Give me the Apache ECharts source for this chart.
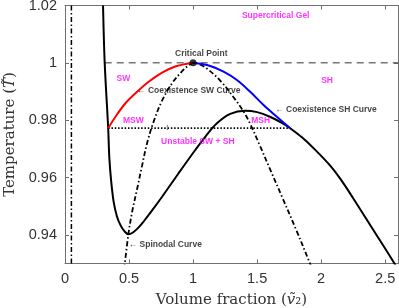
<!DOCTYPE html>
<html>
<head>
<meta charset="utf-8">
<script src="https://cdn.jsdelivr.net/npm/echarts@6/dist/echarts.min.js"></script>
<style>html,body{margin:0;padding:0;background:#fff}#c{width:399px;height:308px}</style>
</head>
<body>
<div id="c"></div>
<script>
// ---- data ----
const xTicks = [0, 0.5, 1, 1.5, 2, 2.5];
const yTicks = [0.94, 0.96, 0.98, 1, 1.02];

// solid black curve
const solidCurve = [
  [0.297, 1.02], [0.310, 1.0], [0.337, 0.9773], [0.346, 0.967], [0.360, 0.9590],
  [0.380, 0.9515], [0.405, 0.9465], [0.435, 0.9432], [0.465, 0.9412], [0.495, 0.9402],
  [0.530, 0.9408], [0.575, 0.9426], [0.620, 0.9450], [0.680, 0.9485], [0.758, 0.9533],
  [0.887, 0.9615], [1.017, 0.9696], [1.095, 0.9742], [1.186, 0.9789], [1.290, 0.9822],
  [1.407, 0.9833], [1.500, 0.9828], [1.600, 0.9812], [1.700, 0.9789], [1.758, 0.9772],
  [1.850, 0.9740], [1.950, 0.9698], [2.069, 0.9642], [2.150, 0.9595], [2.251, 0.9527],
  [2.400, 0.9422], [2.571, 0.9301], [2.62, 0.9262]
];
// red coexistence SW curve
const swCurve = [
  [0.337, 0.9772], [0.394, 0.9812], [0.472, 0.9859], [0.563, 0.9899],
  [0.653, 0.9934], [0.758, 0.9966], [0.861, 0.9987], [0.952, 0.9997], [1.0, 1.0]
];
// blue coexistence SH curve
const shCurve = [
  [1.0, 1.0], [1.134, 0.9989], [1.238, 0.9969], [1.342, 0.9940],
  [1.446, 0.9899], [1.550, 0.9853], [1.654, 0.9812], [1.758, 0.9772]
];
// spinodal (dash-dot)
const spinodal = [
  [0.462, 0.928], [0.495, 0.9402], [0.524, 0.9480], [0.563, 0.9560], [0.602, 0.9642],
  [0.641, 0.9720], [0.692, 0.9795], [0.758, 0.9868], [0.836, 0.9929],
  [0.913, 0.9970], [0.970, 0.9993], [1.0, 1.0], [1.050, 0.9995], [1.108, 0.9980], [1.212, 0.9938],
  [1.316, 0.9880], [1.394, 0.9830], [1.446, 0.9787], [1.520, 0.9713],
  [1.600, 0.9630], [1.700, 0.9527], [1.800, 0.9423], [1.913, 0.9300], [1.93, 0.928]
];
const verticalLineX = 0.05;
const criticalPoint = [1.0, 1.0];
const criticalLineY = 1.0;
const criticalLineStartX = 0.31;
const tieLine = [[0.337, 0.9772], [1.758, 0.9772]];

// annotations [x, y, text]
const regionLabels = [
  [0.456, 0.9944, 'SW'],
  [0.534, 0.9797, 'MSW'],
  [1.037, 0.9724, 'Unstable SW + SH'],
  [1.645, 1.0163, 'Supercritical Gel'],
  [2.046, 0.9937, 'SH'],
  [1.528, 0.9798, 'MSH']
];
const arrowLabels = [
  [0.563, 0.9902, '\u2190 Coexistence SW Curve'],
  [1.641, 0.9836, '\u2190 Coexistence SH Curve'],
  [0.497, 0.9365, '\u2190 Spinodal Curve']
];
const centerLabels = [
  [1.064, 1.0031, 'Critical Point'],
  [0.799, 0.9774, '\u2195']
];

const xMin = 0, xMax = 2.6, yMin = 0.93, yMax = 1.02;

const chart = echarts.init(document.getElementById('c'), null, {renderer: 'canvas'});
const axisCol = '#707070';
const lab = {fontFamily: 'Liberation Sans', fontSize: 14.5, color: '#333'};
const serif = 'DejaVu Serif';

function annot(list, color, align, size, weight) {
  return {
    type: 'scatter', symbolSize: 0, silent: true, z: 10,
    data: list.map(d => ({value: [d[0], d[1]], name: d[2]})),
    label: {
      show: true, position: 'inside', formatter: p => p.name,
      color: color, fontSize: size, fontWeight: weight, fontFamily: 'Liberation Sans',
      align: align, verticalAlign: 'middle'
    }
  };
}

chart.setOption({
  animation: false,
  grid: {left: 65, right: 1, top: 5.5, bottom: 44.5, containLabel: false, outerBoundsMode: 'none'},
  xAxis: [{
    type: 'value', min: xMin, max: xMax, position: 'bottom',
    axisLine: {show: true, onZero: false, lineStyle: {color: axisCol, width: 1}},
    axisTick: {show: true, inside: true, length: 4, customValues: xTicks, lineStyle: {color: axisCol}},
    axisLabel: {customValues: xTicks, margin: 8, ...lab},
    splitLine: {show: false},
    name: 'Volume fraction ({i|\u1E7D}\u2082)', nameLocation: 'middle', nameGap: 29,
    nameTextStyle: {fontFamily: serif, fontSize: 15, color: '#333', rich: {i: {fontFamily: serif, fontStyle: 'italic', fontSize: 15, color: '#333'}}}
  }, {
    type: 'value', min: xMin, max: xMax, position: 'top',
    axisLine: {show: true, onZero: false, lineStyle: {color: axisCol, width: 1}},
    axisTick: {show: true, inside: true, length: 4, customValues: xTicks, lineStyle: {color: axisCol}},
    axisLabel: {show: false}, splitLine: {show: false}
  }],
  yAxis: [{
    type: 'value', min: yMin, max: yMax, position: 'left',
    axisLine: {show: true, onZero: false, lineStyle: {color: axisCol, width: 1}},
    axisTick: {show: true, inside: true, length: 4, customValues: yTicks, lineStyle: {color: axisCol}},
    axisLabel: {customValues: yTicks, margin: 8, ...lab},
    splitLine: {show: false},
    name: 'Temperature ({i|T\u0303})', nameLocation: 'middle', nameGap: 44,
    nameTextStyle: {fontFamily: serif, fontSize: 15, color: '#333', rich: {i: {fontFamily: serif, fontStyle: 'italic', fontSize: 15, color: '#333'}}}
  }, {
    type: 'value', min: yMin, max: yMax, position: 'right',
    axisLine: {show: true, onZero: false, lineStyle: {color: axisCol, width: 1}},
    axisTick: {show: true, inside: true, length: 4, customValues: yTicks, lineStyle: {color: axisCol}},
    axisLabel: {show: false}, splitLine: {show: false}
  }],
  series: [
    {type: 'line', data: [[verticalLineX, yMin], [verticalLineX, yMax]], symbol: 'none',
     lineStyle: {color: '#000', width: 1.5, type: [5, 2.5, 1.5, 2.5]}},
    {type: 'line', data: [[criticalLineStartX, criticalLineY], [xMax, criticalLineY]], symbol: 'none',
     lineStyle: {color: '#333', width: 1, type: [7, 5]}},
    {type: 'line', data: tieLine, symbol: 'none',
     lineStyle: {color: '#000', width: 1.7, type: [1.5, 1.8]}},
    {type: 'line', data: spinodal, symbol: 'none', smooth: 0.35,
     lineStyle: {color: '#000', width: 1.8, type: [5, 2.5, 1.5, 2.5]}},
    {type: 'line', data: solidCurve, symbol: 'none', smooth: 0.35,
     lineStyle: {color: '#000', width: 2}},
    {type: 'line', data: swCurve, symbol: 'none', smooth: 0.35,
     lineStyle: {color: '#ff0000', width: 2}},
    {type: 'line', data: shCurve, symbol: 'none', smooth: 0.35,
     lineStyle: {color: '#0000ff', width: 2}},
    {type: 'scatter', data: [criticalPoint], symbol: 'circle', symbolSize: 7, z: 12,
     itemStyle: {color: '#000'}},
    annot(regionLabels, '#ff00ff', 'center', 8.5, 'bold'),
    annot(arrowLabels, '#111', 'left', 8.5, 'bold'),
    annot(centerLabels, '#111', 'center', 8.5, 'bold')
  ]
});
</script>
</body>
</html>
